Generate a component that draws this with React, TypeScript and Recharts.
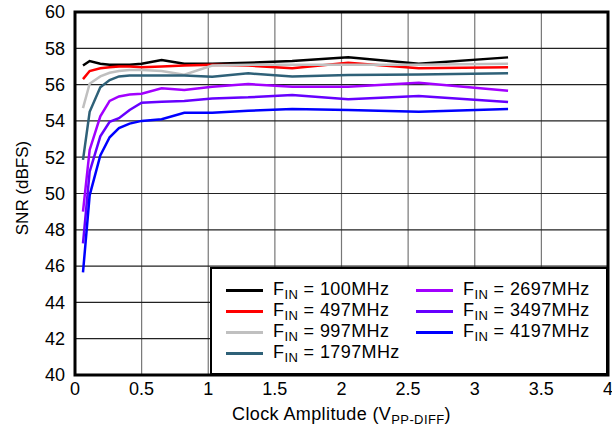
import React from "react";
import {
  LineChart,
  Line,
  XAxis,
  YAxis,
  CartesianGrid,
  ReferenceArea,
  Legend,
} from "recharts";

// Clock amplitude sweep (Vpp diff) and SNR per input frequency
const clockAmp = [0.06, 0.11, 0.19, 0.26, 0.33, 0.41, 0.5, 0.65, 0.82, 1.03, 1.3, 1.63, 2.05, 2.58, 3.25];

const snr100 = [57.05, 57.3, 57.15, 57.1, 57.1, 57.1, 57.15, 57.35, 57.15, 57.15, 57.2, 57.3, 57.5, 57.15, 57.5];
const snr497 = [56.3, 56.75, 56.9, 56.95, 57.0, 57.0, 56.95, 57.0, 57.05, 57.1, 57.05, 56.9, 57.2, 56.9, 56.95];
const snr997 = [54.7, 56.05, 56.45, 56.65, 56.75, 56.8, 56.8, 56.75, 56.55, 57.05, 57.1, 57.1, 57.1, 57.1, 57.15];
const snr1797 = [51.85, 54.5, 55.85, 56.25, 56.45, 56.5, 56.5, 56.5, 56.5, 56.43, 56.62, 56.45, 56.53, 56.56, 56.62];
const snr2697 = [49.0, 52.4, 54.25, 55.1, 55.35, 55.45, 55.5, 55.8, 55.7, 55.88, 56.03, 55.88, 55.88, 56.1, 55.66];
const snr3497 = [47.25, 51.2, 53.15, 53.95, 54.15, 54.6, 55.0, 55.06, 55.1, 55.24, 55.3, 55.43, 55.19, 55.37, 55.04];
const snr4197 = [45.65, 49.9, 52.1, 53.1, 53.6, 53.85, 54.0, 54.09, 54.45, 54.45, 54.56, 54.66, 54.6, 54.51, 54.66];

const xTicks = [0, 0.5, 1, 1.5, 2, 2.5, 3, 3.5, 4];
const yTicks = [40, 42, 44, 46, 48, 50, 52, 54, 56, 58, 60];

const series = [
  { key: "f100", name: "100MHz", color: "#000000", values: snr100 },
  { key: "f497", name: "497MHz", color: "#ff0000", values: snr497 },
  { key: "f997", name: "997MHz", color: "#c0c0c0", values: snr997 },
  { key: "f1797", name: "1797MHz", color: "#2f6178", values: snr1797 },
  { key: "f2697", name: "2697MHz", color: "#a200ff", values: snr2697 },
  { key: "f3497", name: "3497MHz", color: "#6600ff", values: snr3497 },
  { key: "f4197", name: "4197MHz", color: "#0000ff", values: snr4197 },
];

const data = clockAmp.map((x, i) => {
  const row: Record<string, number> = { x };
  series.forEach((s) => (row[s.key] = s.values[i]));
  return row;
});

const FONT = '"Liberation Sans", Arial, Helvetica, sans-serif';
const tickStyle = { fontSize: 18, fill: "#000", fontFamily: FONT };

const order = series.map((s) => s.name);

const LegendBox = ({ payload }: { payload?: Array<{ value: string; color: string }> }) => {
  // keep the original series order (recharts sorts legend items by name)
  const items = [...(payload || [])].sort((a, b) => order.indexOf(a.value) - order.indexOf(b.value));
  return (
    <div
      style={{
        boxSizing: "border-box",
        width: 398,
        height: 108,
        background: "#fff",
        border: "2.5px solid #000",
        padding: "11px 0 0 14px",
        display: "grid",
        gridTemplateRows: "repeat(4, 21px)",
        gridTemplateColumns: "190px 190px",
        gridAutoFlow: "column",
        fontFamily: FONT,
        fontSize: 18,
        letterSpacing: 0.4,
        color: "#000",
      }}
    >
      {items.map((p) => (
        <div key={p.value} style={{ display: "flex", alignItems: "center", whiteSpace: "nowrap" }}>
          <span style={{ display: "inline-block", width: 37, height: 3, background: p.color, marginRight: 10 }} />
          <span>
            F<span style={{ fontSize: 13, verticalAlign: -4 }}>IN</span> = {p.value}
          </span>
        </div>
      ))}
    </div>
  );
};

const XTitle = (props: any) => {
  const vb = props.viewBox || { x: 0, width: 0 };
  return (
    <text x={vb.x + vb.width / 2} y={420} textAnchor="middle" fontSize={18} letterSpacing={0.4} fontFamily={FONT} fill="#000">
      Clock Amplitude (V
      <tspan fontSize={13} dy={4}>PP-DIFF</tspan>
      <tspan dy={-4}>)</tspan>
    </text>
  );
};

const YTitle = () => (
  <text
    x={22}
    y={188}
    transform="rotate(-90 22 188)"
    textAnchor="middle"
    dominantBaseline="central"
    fontSize={17}
    fontFamily={FONT}
    fill="#000"
  >
    SNR (dBFS)
  </text>
);

export default function App() {
  return (
    <div style={{ position: "absolute", left: 0, top: 0, background: "#fff" }}>
      <LineChart width={612} height={433} data={data} margin={{ top: 12, right: 4, bottom: 0, left: 0 }}>
        <CartesianGrid horizontal={false} stroke="#777" strokeWidth={1.2} />
        <CartesianGrid vertical={false} stroke="#222" strokeWidth={1.2} />
        <XAxis
          dataKey="x"
          type="number"
          domain={[0, 4]}
          ticks={xTicks}
          tick={tickStyle}
          tickLine={false}
          tickMargin={1}
          axisLine={false}
          height={58}
          interval={0}
          label={{ content: <XTitle /> }}
        />
        <YAxis
          type="number"
          domain={[40, 60]}
          ticks={yTicks}
          tick={tickStyle}
          tickLine={false}
          tickMargin={4}
          axisLine={false}
          width={75}
          interval={0}
          label={{ content: <YTitle /> }}
        />
        {series.map((s) => (
          <Line
            key={s.key}
            dataKey={s.key}
            name={s.name}
            stroke={s.color}
            strokeWidth={2.5}
            dot={false}
            isAnimationActive={false}
          />
        ))}
        <ReferenceArea x1={0} x2={4} y1={40} y2={60} fill="none" stroke="#000" strokeWidth={3} ifOverflow="visible" />
        <Legend
          layout="horizontal"
          verticalAlign="middle"
          align="center"
          content={<LegendBox />}
          wrapperStyle={{ left: 210, top: 267, width: 398, height: 108 }}
        />
      </LineChart>
    </div>
  );
}
